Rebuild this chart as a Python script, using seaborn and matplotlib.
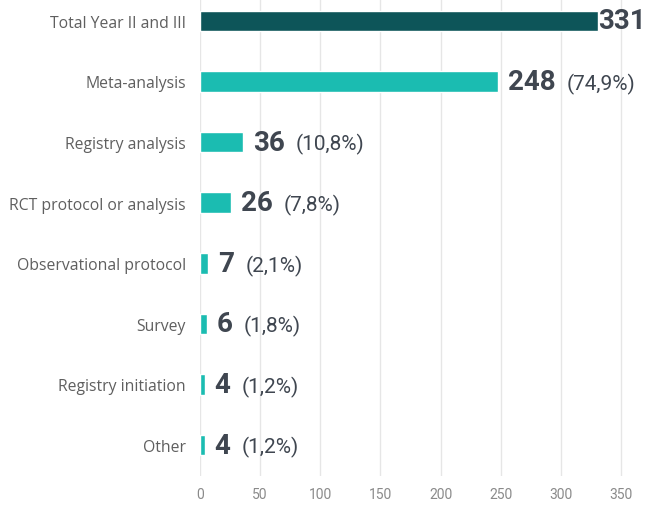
import matplotlib
matplotlib.use("Agg")
import matplotlib.pyplot as plt
import seaborn as sns
import pandas as pd

categories = ["Total Year II and III", "Meta-analysis", "Registry analysis",
              "RCT protocol or analysis", "Observational protocol", "Survey",
              "Registry initiation", "Other"]
counts = [331, 248, 36, 26, 7, 6, 4, 4]
percent_labels = ["", "(74,9%)", "(10,8%)", "(7,8%)", "(2,1%)", "(1,8%)", "(1,2%)", "(1,2%)"]
x_ticks = [0, 50, 100, 150, 200, 250, 300, 350]

df = pd.DataFrame({"category": categories, "count": counts})
palette = ["#0d5559"] + ["#1bbcb1"] * (len(categories) - 1)

sns.set_theme(style="white")
plt.rcParams["font.family"] = ["Roboto", "DejaVu Sans"]

fig = plt.figure(figsize=(6.45, 5.06), dpi=100)
ax = fig.add_axes([200 / 645, 29 / 506, 445 / 645, 477 / 506])

sns.barplot(data=df, x="count", y="category", hue="category", palette=palette,
            legend=False, width=0.34, ax=ax, saturation=1)

ax.set_xlim(0, 370)
ax.set_ylim(7.51, -0.36)
ax.set_xticks(x_ticks)
ax.xaxis.grid(True, color="#e6e6e6", linewidth=1)
ax.set_axisbelow(True)
for s in ax.spines.values():
    s.set_visible(False)
ax.set_xlabel("")
ax.set_ylabel("")
ax.tick_params(axis="x", length=0, pad=8, labelsize=10, labelcolor="#8a8a8a")
ax.tick_params(axis="y", length=0, pad=10)
for lbl in ax.get_yticklabels():
    lbl.set_fontfamily(["Open Sans", "DejaVu Sans"])
    lbl.set_fontsize(11.3)
    lbl.set_color("#5f5f5f")

fig.canvas.draw()
renderer = fig.canvas.get_renderer()
for i, (v, p) in enumerate(zip(counts, percent_labels)):
    off = 0 if i == 0 else 7
    t = ax.annotate(str(v), xy=(v, i), xytext=(off, 0), textcoords="offset points",
                    ha="left", va="center", fontsize=20, fontweight="bold",
                    color="#3f4650", annotation_clip=False)
    if p:
        bb = t.get_window_extent(renderer)
        x_disp = bb.x1 + 11
        x_data = ax.transData.inverted().transform((x_disp, 0))[0]
        ax.text(x_data, i + 0.03, p, ha="left", va="center", fontsize=15,
                color="#3f4650", clip_on=False)

fig.savefig("out.png", dpi=100)
